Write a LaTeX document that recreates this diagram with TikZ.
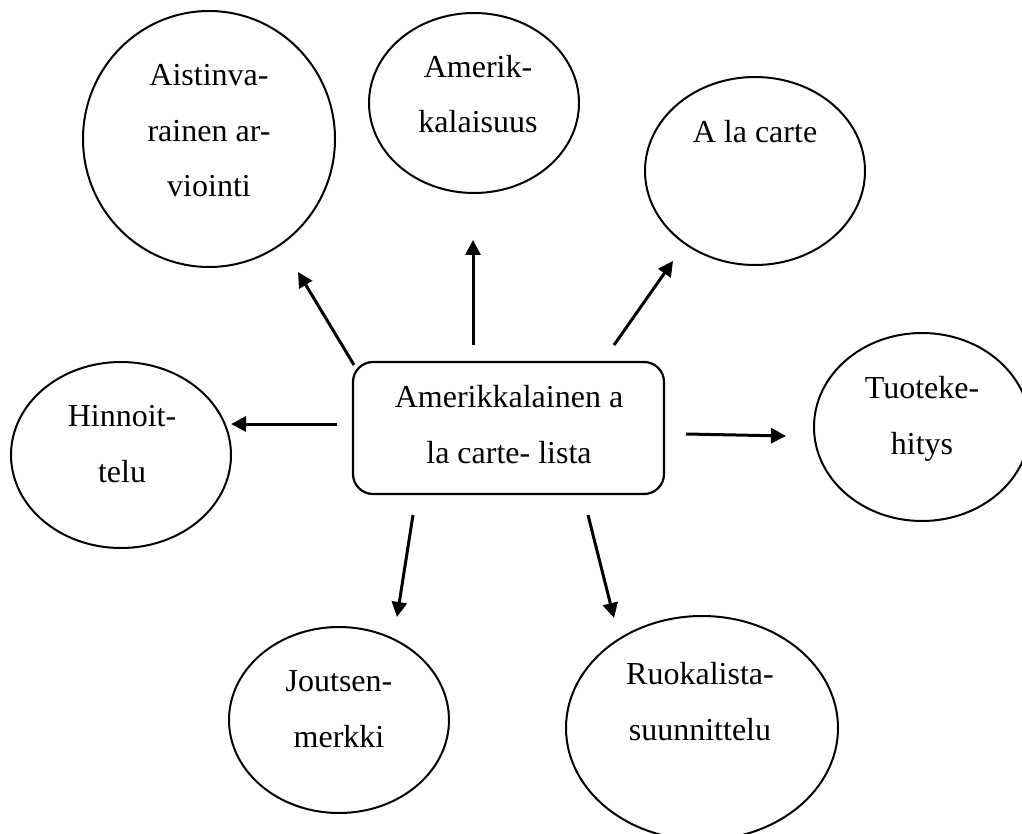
\documentclass[tikz,border=0pt]{standalone}
\usepackage{fontspec}
\setmainfont{Liberation Serif}
\usetikzlibrary{shapes.geometric,arrows.meta}
\tikzset{
  oval/.style={draw=black, line width=2pt, ellipse, inner sep=0pt},
  lbl/.style={anchor=base, align=center, inner sep=0pt, font=\fontsize{32pt}{55.5pt}\selectfont},
  centerbox/.style={draw=black, line width=2.2pt, rounded corners=20pt, inner sep=0pt},
  link/.style={line width=3pt, -{Triangle[length=15pt,width=15pt]}}
}
\begin{document}
\begin{tikzpicture}[x=1pt,y=-1pt]
\useasboundingbox (0,0) rectangle (1022,834);
\begin{scope}
\clip (0,0) rectangle (1022,834);
% ellipses
\node[oval, minimum width=252pt, minimum height=256pt] (aist) at (209,139) {};
\node[oval, minimum width=210pt, minimum height=180pt] (amer) at (474,103) {};
\node[oval, minimum width=220pt, minimum height=188pt] (alac) at (755,171) {};
\node[oval, minimum width=220pt, minimum height=186pt] (hinn) at (121,455) {};
\node[oval, minimum width=216pt, minimum height=188pt] (tuot) at (922,427) {};
\node[oval, minimum width=220pt, minimum height=186pt] (jout) at (339,720) {};
\node[oval, minimum width=272pt, minimum height=224pt] (ruok) at (702,728) {};
% central box
\node[centerbox, minimum width=311pt, minimum height=132pt] (main) at (508.5,428) {};
\end{scope}
% texts (anchor = baseline of the last line)
\node[lbl] (taist) at (209,197) {Aistinva-\\rainen ar-\\viointi};
\node[lbl] (tamer) at (478,133) {Amerik-\\kalaisuus};
\node[lbl] (talac) at (755,143) {A la carte};
\node[lbl] (thinn) at (122,482) {Hinnoit-\\telu};
\node[lbl] (ttuot) at (922,454) {Tuoteke-\\hitys};
\node[lbl] (tjout) at (339,747) {Joutsen-\\merkki};
\node[lbl] (truok) at (700,740) {Ruokalista-\\suunnittelu};
\node[lbl] (tmain) at (509,463) {Amerikkalainen a\\la carte- lista};
% arrow ends
\coordinate (s1) at (354,365); \coordinate (e1) at (298,272);
\coordinate (s2) at (473,345); \coordinate (e2) at (473,240);
\coordinate (s3) at (614,345); \coordinate (e3) at (673,261);
\coordinate (s4) at (337,424); \coordinate (e4) at (231,424);
\coordinate (s5) at (686,434); \coordinate (e5) at (786,436);
\coordinate (s6) at (413,515); \coordinate (e6) at (397,617);
\coordinate (s7) at (588,515); \coordinate (e7) at (614,618);
\foreach \i in {1,...,7} {\draw[link] (s\i) -- (e\i);}
\end{tikzpicture}
\end{document}
